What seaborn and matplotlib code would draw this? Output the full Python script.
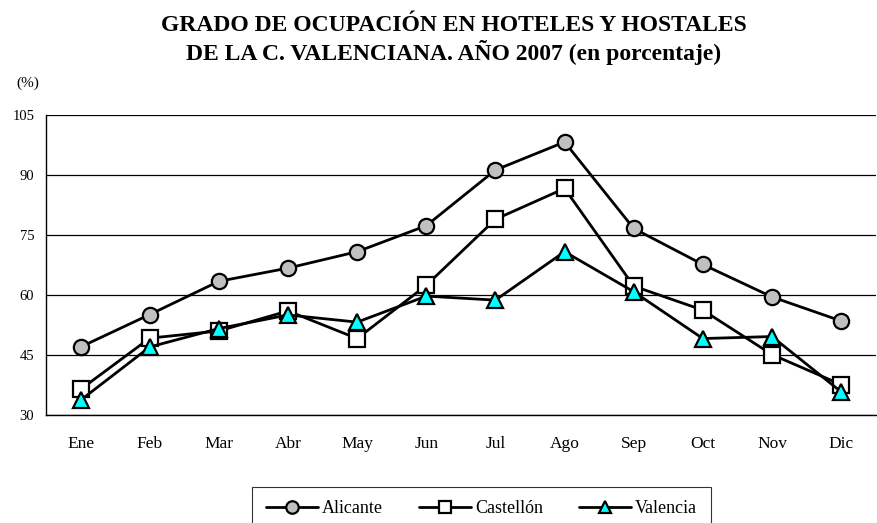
import numpy as np
import pandas as pd
import matplotlib
matplotlib.use('Agg')
import matplotlib.pyplot as plt
import seaborn as sns
from matplotlib.ticker import FixedLocator

meses = ['Ene', 'Feb', 'Mar', 'Abr', 'May', 'Jun', 'Jul', 'Ago', 'Sep', 'Oct', 'Nov', 'Dic']
alicante = [47.0, 55.1, 63.4, 66.7, 70.8, 77.3, 91.2, 98.2, 76.6, 67.6, 59.5, 53.5]
castellon = [36.4, 49.2, 51.0, 56.0, 49.1, 62.4, 78.9, 86.6, 62.2, 56.2, 45.1, 37.6]
valencia = [33.7, 47.0, 51.6, 55.0, 53.2, 59.7, 58.7, 70.8, 60.8, 49.1, 49.6, 35.8]

sns.set_style('white')
plt.rcParams['font.family'] = ['Liberation Serif', 'DejaVu Serif']
plt.rcParams['text.color'] = 'black'
plt.rcParams['xtick.color'] = 'black'
plt.rcParams['ytick.color'] = 'black'

fig = plt.figure(figsize=(8.77, 5.23), dpi=100)
ax = fig.add_axes([0.0525, 0.2065, 0.946, 0.574])

series = [
    ('Alicante', alicante, 'o', '#C0C0C0', 11),
    ('Castellón', castellon, 's', 'white', 11),
    ('Valencia', valencia, '^', '#00FFFF', 11),
]
for nombre, valores, marca, relleno, tam in series:
    df = pd.DataFrame({'mes': meses, 'valor': valores})
    sns.lineplot(data=df, x='mes', y='valor', ax=ax, color='black', linewidth=2,
                 marker=marca, markersize=tam, markerfacecolor=relleno,
                 markeredgecolor='black', markeredgewidth=1.6, label=nombre, sort=False)

ax.set_xlim(-0.5, 11.5)
ax.set_ylim(30, 105)
ax.set_yticks([30, 45, 60, 75, 90, 105])
ax.yaxis.grid(True, color='black', linewidth=0.9)
ax.set_axisbelow(True)
ax.set_xticks(range(12))
ax.set_xticklabels(meses)
ax.xaxis.set_minor_locator(FixedLocator(np.arange(-0.5, 12, 1)))
ax.tick_params(axis='x', which='major', length=0, pad=15, labelsize=12.5)
ax.tick_params(axis='x', which='minor', length=5, width=1, color='black', direction='out')
ax.tick_params(axis='y', which='major', length=4.5, width=1, color='black', direction='out',
               labelsize=10.5, pad=4)
ax.set_xlabel('')
ax.set_ylabel('')
for lado in ['top', 'right']:
    ax.spines[lado].set_visible(False)
for lado in ['left', 'bottom']:
    ax.spines[lado].set_color('black')
    ax.spines[lado].set_linewidth(1)

fig.text(0.517, 0.952, 'GRADO DE OCUPACIÓN EN HOTELES Y HOSTALES',
         ha='center', va='center', fontsize=17, fontweight='bold')
fig.text(0.517, 0.899, 'DE LA C. VALENCIANA. AÑO 2007 (en porcentaje)',
         ha='center', va='center', fontsize=17, fontweight='bold')
fig.text(0.019, 0.841, '(%)', ha='left', va='center', fontsize=11)

ax.get_legend().remove()
handles, labels = ax.get_legend_handles_labels()
leg = fig.legend(handles, labels, loc='upper center', bbox_to_anchor=(0.549, 0.069), ncol=3,
                 frameon=True, fancybox=False, edgecolor='black', fontsize=13,
                 handlelength=2.9, columnspacing=2.0, borderpad=0.75, handletextpad=0.2,
                 borderaxespad=0)
leg.get_frame().set_linewidth(0.8)
for h in leg.legend_handles:
    h.set_markersize(9)

fig.savefig('out.png', dpi=100)
